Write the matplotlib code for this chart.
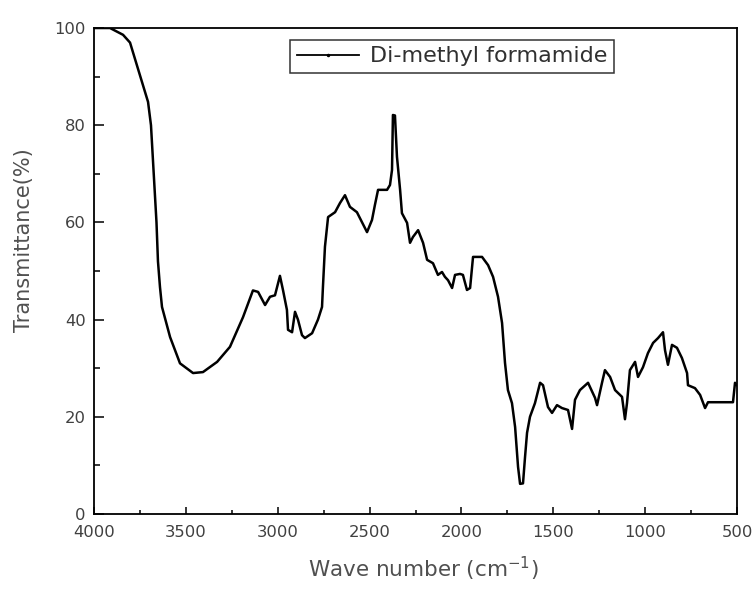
import numpy as np
import matplotlib
matplotlib.use('Agg')
import matplotlib.pyplot as plt
from matplotlib.ticker import MultipleLocator
from matplotlib.lines import Line2D

plt.rcParams['font.family'] = ['DejaVu Sans']
plt.rcParams['mathtext.fontset'] = 'dejavusans'

# 波数 cm-1
waveNum = [4000, 3913, 3842, 3804, 3788, 3750, 3706, 3690, 3675, 3660, 3652, 3641, 3630,
	3586, 3532, 3461, 3407, 3330, 3260, 3189, 3135, 3107, 3069, 3042, 3015, 2988,
	2971, 2950, 2944, 2922, 2906, 2890, 2868, 2852, 2813, 2781, 2759, 2754, 2743,
	2726, 2688, 2661, 2634, 2607, 2569, 2514, 2487, 2471, 2454, 2405, 2389, 2378,
	2373, 2362, 2351, 2334, 2324, 2296, 2280, 2264, 2236, 2209, 2187, 2155, 2128,
	2106, 2090, 2073, 2051, 2035, 2008, 1992, 1970, 1953, 1943, 1937, 1888, 1855,
	1828, 1801, 1779, 1763, 1747, 1725, 1708, 1692, 1681, 1665, 1654, 1643, 1627,
	1600, 1572, 1556, 1529, 1507, 1480, 1453, 1420, 1398, 1382, 1355, 1311, 1273,
	1262, 1235, 1219, 1191, 1164, 1126, 1110, 1099, 1083, 1055, 1039, 1012, 985,
	957, 930, 903, 892, 876, 854, 827, 800, 772, 767, 729, 701, 674, 658, 576,
	522, 511, 500]
# 透过率 %
trans = [100, 100, 98.6, 97.0, 95.0, 90.3, 84.8, 80.0, 70.0, 60.0, 52.0, 46.7, 42.6,
	36.4, 31.0, 29.0, 29.2, 31.3, 34.4, 40.5, 46.0, 45.7, 43.0, 44.7, 45.0, 49.0,
	46.0, 42.0, 37.9, 37.4, 41.6, 40.0, 36.8, 36.2, 37.2, 40.0, 42.6, 46.7, 55.0,
	61.1, 62.1, 64.0, 65.6, 63.2, 62.1, 58.0, 60.5, 63.6, 66.7, 66.7, 67.7, 70.8,
	82.1, 82.0, 73.5, 66.7, 61.9, 59.9, 55.8, 57.0, 58.4, 55.8, 52.3, 51.6, 49.2,
	49.8, 48.8, 48.1, 46.5, 49.2, 49.4, 49.2, 46.1, 46.5, 50.6, 52.9, 52.9, 51.2,
	48.8, 44.7, 39.3, 31.1, 25.5, 22.8, 17.9, 9.7, 6.2, 6.3, 11.7, 16.7, 20.0,
	22.8, 27.0, 26.5, 22.0, 20.8, 22.4, 21.8, 21.4, 17.5, 23.5, 25.5, 27.0, 23.9,
	22.4, 27.0, 29.6, 28.2, 25.5, 24.1, 19.5, 22.8, 29.6, 31.3, 28.2, 30.2, 33.1,
	35.2, 36.2, 37.4, 33.7, 30.7, 34.8, 34.2, 32.1, 29.0, 26.5, 25.9, 24.5, 21.8, 23.0, 23.0,
	23.0, 27.0, 26.5]

fig = plt.figure(figsize=(7.54, 5.91), dpi=100)
ax = fig.add_axes([0.1247, 0.1303, 0.8528, 0.8223])
ax.plot(waveNum, trans, color='black', linewidth=1.8)

ax.set_xlim(4000, 500)
ax.set_ylim(0, 100)
ax.xaxis.set_major_locator(MultipleLocator(500))
ax.xaxis.set_minor_locator(MultipleLocator(250))
ax.yaxis.set_major_locator(MultipleLocator(20))
ax.yaxis.set_minor_locator(MultipleLocator(10))
ax.tick_params(axis='x', which='major', direction='in', length=5, width=1.1, pad=8, labelsize=11.8, colors='#404040')
ax.tick_params(axis='x', which='minor', direction='in', length=3, width=1.1)
ax.tick_params(axis='y', which='major', direction='in', length=7, width=1.1, pad=6, labelsize=11.8, colors='#404040')
ax.tick_params(axis='y', which='minor', direction='in', length=4, width=1.1)
ax.tick_params(which='both', color='black')
for s in ax.spines.values():
	s.set_linewidth(1.3)

# 坐标轴标题
fig.text(423/754, 1-569/591, r'Wave number (cm$^{-1}$)', fontsize=15.5, color='#505050', ha='center', va='center')
fig.text(24/754, 1-240/591, 'Transmittance(%)', fontsize=15, color='#505050', ha='center', va='center', rotation=90)

h = Line2D([], [], color='black', linewidth=1.3, marker='.', markersize=3)
leg = ax.legend([h], ['Di-methyl formamide'], loc='upper left', bbox_to_anchor=(0.305, 0.976),
	fontsize=16, frameon=True, fancybox=False, edgecolor='black', borderpad=0.3,
	handlelength=2.8, handletextpad=0.5, borderaxespad=0)
leg.get_frame().set_linewidth(1.1)
for t in leg.get_texts():
	t.set_color('#303030')

plt.savefig('out.png', dpi=100)
